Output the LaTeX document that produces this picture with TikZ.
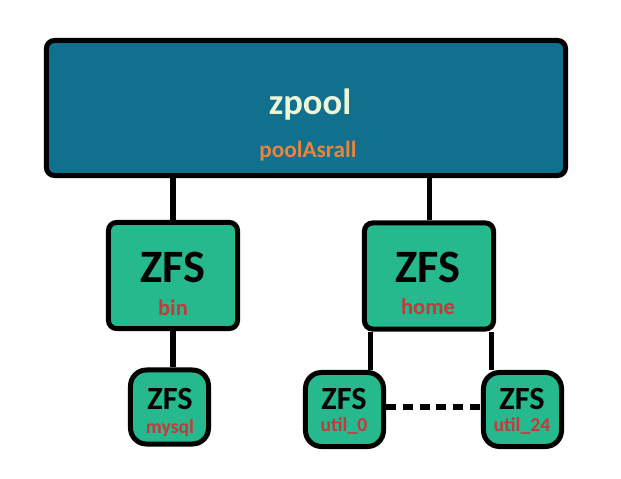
\documentclass[tikz,border=0pt]{standalone}
\usepackage{fontspec}
\setmainfont{Carlito}
\definecolor{poolblue}{RGB}{18,112,143}
\definecolor{fsgreen}{RGB}{38,185,142}
\definecolor{poolname}{RGB}{232,133,58}
\definecolor{fsname}{RGB}{200,55,58}
\definecolor{pooltext}{RGB}{236,246,214}
\begin{document}
\begin{tikzpicture}[x=0.025cm,y=-0.025cm,
  box/.style={draw=black,line width=0.125cm,inner sep=0pt,rounded corners=0.2cm},
  bigfs/.style={box,fill=fsgreen,minimum width=3.225cm,minimum height=2.65cm},
  smallfs/.style={box,fill=fsgreen,minimum width=1.95cm,minimum height=1.85cm,rounded corners=0.4cm},
  txt/.style={inner sep=0pt},
  link/.style={line width=0.125cm}]
\useasboundingbox (0,0) rectangle (621,479);

% Pool (top)
\node[box,fill=poolblue,minimum width=12.975cm,minimum height=3.375cm] (zpool) at (306,108) {};
\node[txt,text=pooltext,font=\fontsize{26}{28}\selectfont\bfseries] (zpooltitle) at (310,105) {zpool};
\node[txt,text=poolname,font=\fontsize{16.5}{18}\selectfont\bfseries] (zpoolname) at (308,151) {poolAsrall};

% File systems (middle)
\node[bigfs] (bin) at (173,275.5) {};
\node[txt,font=\fontsize{33}{35}\selectfont\bfseries] (bintitle) at (173,267) {ZFS};
\node[txt,text=fsname,font=\fontsize{16}{18}\selectfont\bfseries] (binname) at (173,308) {bin};

\node[bigfs] (home) at (429,276) {};
\node[txt,font=\fontsize{33}{35}\selectfont\bfseries] (hometitle) at (428,267) {ZFS};
\node[txt,text=fsname,font=\fontsize{16}{18}\selectfont\bfseries] (homename) at (428,307) {home};

% File systems (bottom)
\node[smallfs] (mysql) at (169.5,407) {};
\node[txt,font=\fontsize{23}{25}\selectfont\bfseries] (mysqltitle) at (170,399) {ZFS};
\node[txt,text=fsname,font=\fontsize{14}{16}\selectfont\bfseries] (mysqlname) at (170,428) {mysql};

\node[smallfs] (util0) at (344.5,409.5) {};
\node[txt,font=\fontsize{23}{25}\selectfont\bfseries] (util0title) at (344,399) {ZFS};
\node[txt,text=fsname,font=\fontsize{14}{16}\selectfont\bfseries] (util0name) at (344,426) {util\_0};

\node[smallfs] (util24) at (522.5,409.5) {};
\node[txt,font=\fontsize{23}{25}\selectfont\bfseries] (util24title) at (522,399) {ZFS};
\node[txt,text=fsname,font=\fontsize{14}{16}\selectfont\bfseries] (util24name) at (522,426) {util\_24};

% Pool to bin and home
\draw[link] (zpool.south -| bin.north) -- (bin.north);
\draw[link] (zpool.south -| home.north) -- (home.north);

% bin to mysql
\draw[link] (bin.south) -- (bin.south |- mysql.north);

% home to util_0 and util_24
\coordinate (homeL) at (370,332);
\coordinate (homeR) at (491,332);
\draw[link] (homeL) -- (homeL |- util0.north);
\draw[link] (homeR) -- (homeR |- util24.north);

% util_0 .. util_24
\draw[link,dash pattern=on 0.25cm off 0.17cm] (util0.east |- 0,407) -- (util24.west |- 0,407);

\end{tikzpicture}
\end{document}
